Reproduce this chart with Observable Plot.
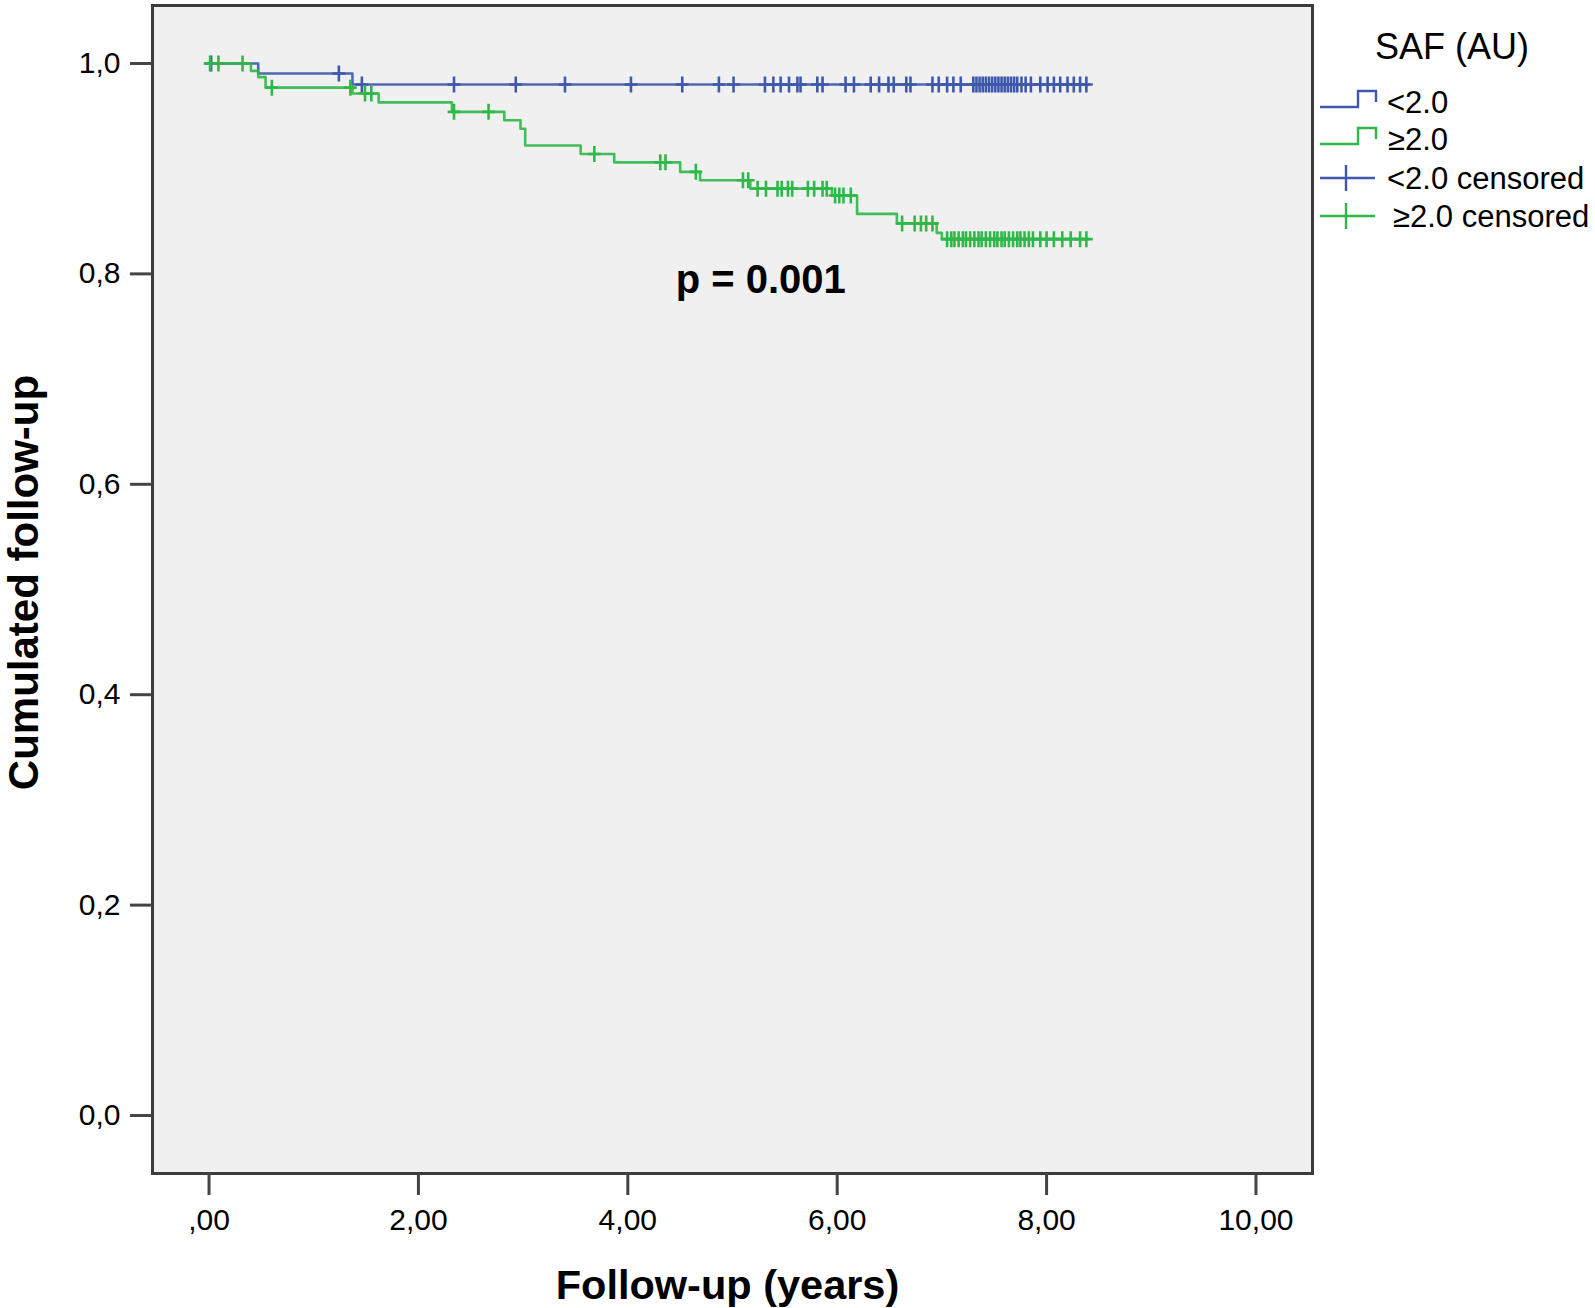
<!DOCTYPE html>
<html><head><meta charset="utf-8">
<script src="https://cdn.jsdelivr.net/npm/d3@7"></script>
<script src="https://cdn.jsdelivr.net/npm/@observablehq/plot@0.6"></script>
<style>
body{margin:0;background:#fff;}
#wrap{position:relative;width:1595px;height:1308px;}
</style></head><body><div id="wrap"></div>
<script>
// ---- data ----
const groups = ["<2.0", "≥2.0"];
const groupColors = ["#3e58ac", "#2eb848"];

const blueTimes = [0, 0.47, 1.37, 8.40];
const blueSurv  = [1.0, 0.9905, 0.980, 0.980];

const greenTimes = [0, 0.40, 0.47, 0.54, 1.37, 1.62, 2.32, 2.82, 2.975, 3.02, 3.55, 3.87, 4.50, 4.69, 5.17, 5.95, 6.19, 6.57, 6.95, 7.00, 8.40];
const greenSurv  = [1.0, 0.993, 0.987, 0.977, 0.9715, 0.963, 0.954, 0.946, 0.938, 0.922, 0.914, 0.906, 0.897, 0.889, 0.881, 0.8745, 0.857, 0.848, 0.839, 0.833, 0.833];

const blueCensored = [0.02, 1.24, 1.46, 2.34, 2.93, 3.40, 4.03, 4.52, 4.87, 5.01, 5.31, 5.39, 5.46, 5.54, 5.62, 5.65, 5.81, 5.86, 6.08, 6.16, 6.32, 6.40, 6.49, 6.54, 6.66, 6.70, 6.91, 6.97, 7.05, 7.11, 7.18, 7.30, 7.33, 7.36, 7.39, 7.42, 7.45, 7.48, 7.51, 7.54, 7.57, 7.60, 7.63, 7.66, 7.69, 7.72, 7.76, 7.80, 7.85, 7.94, 8.01, 8.07, 8.13, 8.20, 8.26, 8.32, 8.38];
const greenCensored = [0.01, 0.09, 0.32, 0.60, 1.35, 1.49, 1.55, 2.34, 2.67, 3.68, 4.31, 4.36, 4.65, 5.10, 5.15, 5.24, 5.32, 5.43, 5.47, 5.53, 5.57, 5.72, 5.78, 5.86, 5.90, 5.98, 6.02, 6.06, 6.13, 6.62, 6.74, 6.80, 6.85, 6.91, 7.05, 7.09, 7.12, 7.16, 7.20, 7.23, 7.27, 7.31, 7.35, 7.38, 7.42, 7.46, 7.50, 7.53, 7.57, 7.60, 7.64, 7.68, 7.72, 7.75, 7.79, 7.83, 7.87, 7.94, 8.00, 8.07, 8.15, 8.23, 8.32, 8.38];

const xTickValues = [0, 2, 4, 6, 8, 10];
const xTickLabels = [",00", "2,00", "4,00", "6,00", "8,00", "10,00"];
const yTickValues = [0, 0.2, 0.4, 0.6, 0.8, 1.0];
const yTickLabels = ["0,0", "0,2", "0,4", "0,6", "0,8", "1,0"];

const xTitle = "Follow-up (years)";
const yTitle = "Cumulated follow-up";
const pLabel = "p = 0.001";
const pAnchor = {t: 5.27, s: 0.794};
const legendTitle = "SAF (AU)";
const legendLabels = ["<2.0", "≥2.0", "<2.0 censored", "≥2.0 censored"];

// ---- build tables ----
const curves = [[blueTimes, blueSurv], [greenTimes, greenSurv]];
const curveRows = [];
curves.forEach(([ts, ss], g) => ts.forEach((t, i) => curveRows.push({t, s: ss[i], group: groups[g]})));
function survAt(g, t) {
  const [ts, ss] = curves[g];
  let v = ss[0];
  for (let i = 0; i < ts.length; i++) if (ts[i] <= t) v = ss[i];
  return v;
}
const censorRows = [];
[blueCensored, greenCensored].forEach((arr, g) => arr.forEach(t => censorRows.push({t, s: survAt(g, t), group: groups[g]})));

const plusSymbol = {draw(ctx, size) {
  const r = Math.sqrt(size / Math.PI);
  ctx.moveTo(-r * 0.8, 0); ctx.lineTo(r * 0.8, 0);
  ctx.moveTo(0, -r); ctx.lineTo(0, r);
}};

const font = "'Liberation Sans', Arial, sans-serif";
const colorScale = {domain: groups, range: groupColors};

const plot = Plot.plot({
  width: 1595, height: 1308,
  marginLeft: 152, marginRight: 283, marginTop: 5, marginBottom: 135,
  x: {domain: [-0.54, 10.54]},
  y: {domain: [-0.0551, 1.0551]},
  color: colorScale,
  style: {fontFamily: font, background: "#fff", overflow: "visible", color: "#000"},
  marks: [
    Plot.frame({fill: "#f0f0f0", stroke: null}),
    Plot.line(curveRows, {x: "t", y: "s", z: "group", stroke: "group", curve: "step-after", strokeWidth: 2.6, strokeOpacity: 0.9}),
    Plot.dot(censorRows, {x: "t", y: "s", stroke: "group", fill: "none", symbol: plusSymbol, r: 8, strokeWidth: 2.6}),
    Plot.text([pLabel], {x: () => pAnchor.t, y: () => pAnchor.s, fontSize: 40, fontWeight: "bold", fill: "#000"}),
    Plot.frame({stroke: "#3c3c3c", strokeWidth: 3}),
    Plot.axisX({ticks: xTickValues, tickFormat: d => xTickLabels[xTickValues.indexOf(d)], tickSize: 22, tickPadding: 13, fontSize: 30, strokeWidth: 3, stroke: "#444", label: null}),
    Plot.axisY({ticks: yTickValues, tickFormat: d => yTickLabels[yTickValues.findIndex(v => Math.abs(v - d) < 1e-9)], tickSize: 22, tickPadding: 10, fontSize: 30, strokeWidth: 3, stroke: "#444", label: null}),
    Plot.text([xTitle], {frameAnchor: "bottom", lineAnchor: "middle", textAnchor: "middle", dy: 112, dx: -5, fontSize: 41.5, fontWeight: "bold", fill: "#000"}),
    Plot.text([yTitle], {frameAnchor: "left", textAnchor: "middle", lineAnchor: "middle", rotate: -90, dx: -128, dy: -7, fontSize: 42, fontWeight: "bold", fill: "#000"})
  ]
});
document.getElementById("wrap").appendChild(plot);

// ---- legend ----
const svg = d3.select(plot);
const lg = svg.append("g").attr("font-family", font).attr("fill", "#000").attr("text-anchor", "start");
lg.append("text").attr("x", 1452).attr("y", 59).attr("text-anchor", "middle").attr("font-size", 36).text(legendTitle);
const rowY = [102, 139, 178, 216];
const textX = [1387, 1388, 1387, 1393];
legendLabels.forEach((lab, i) => {
  const c = rowY[i];
  const col = groupColors[i % 2];
  if (i < 2) {
    lg.append("path").attr("d", `M1320,${c + 5}H1358V${c - 11}H1376V${c}`).attr("fill", "none").attr("stroke", col).attr("stroke-width", 2.4);
  } else {
    lg.append("path").attr("d", `M1320,${c}H1375M1346,${c - 13}V${c + 13}`).attr("fill", "none").attr("stroke", col).attr("stroke-width", 2.4);
  }
  lg.append("text").attr("x", textX[i]).attr("y", c + 11).attr("text-anchor", "start").attr("font-size", 31).text(lab);
});
</script></body></html>
